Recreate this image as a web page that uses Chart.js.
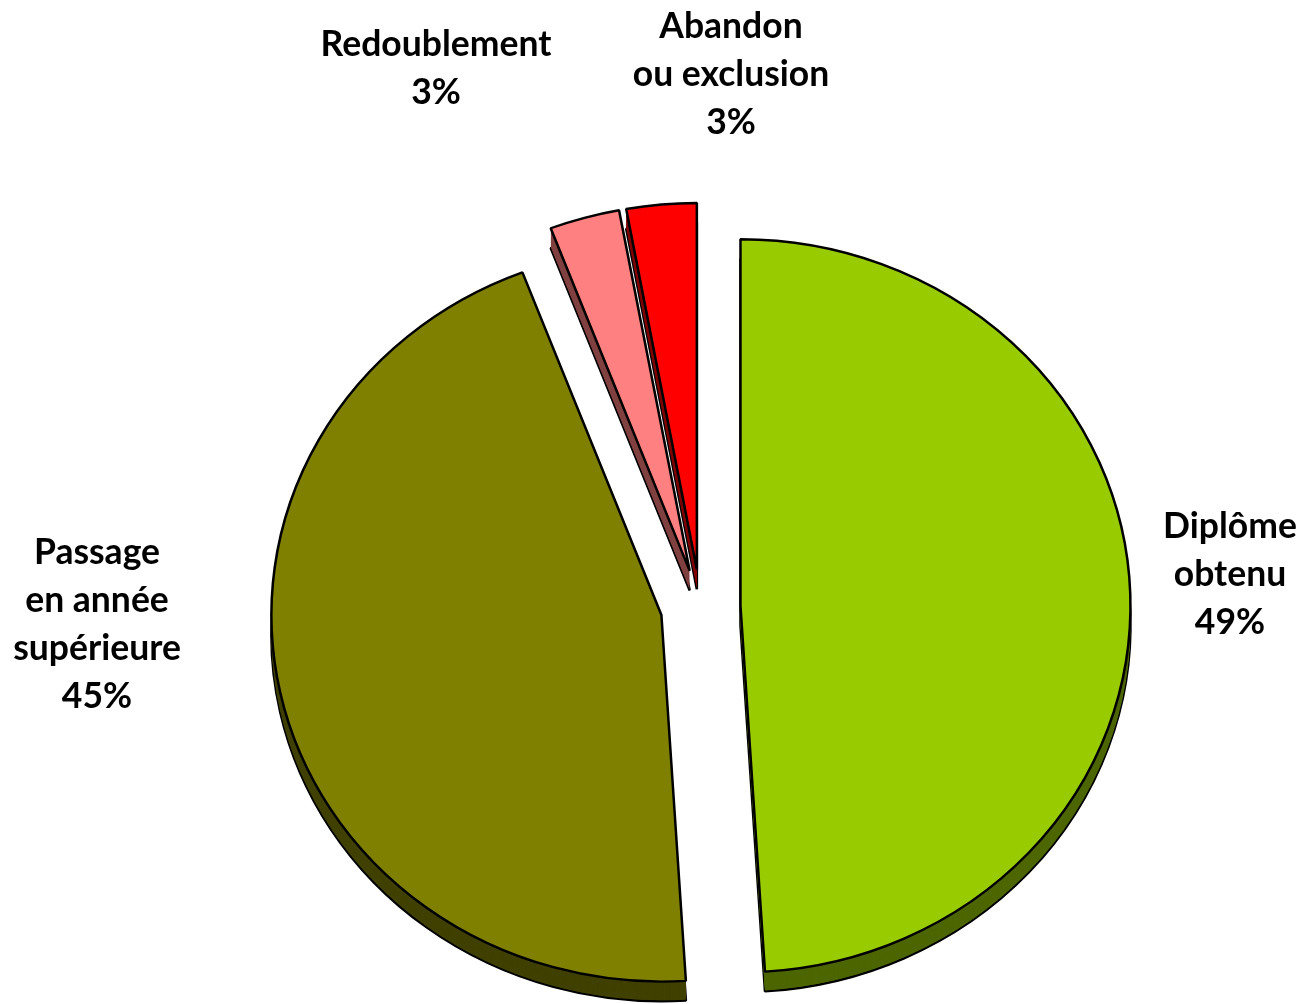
<!DOCTYPE html>
<html>
<head>
<meta charset="utf-8">
<script src="https://cdn.jsdelivr.net/npm/chart.js@4.4.1/dist/chart.umd.min.js"></script>
<style>
  html, body { margin: 0; padding: 0; background: #fff; }
  #wrap { width: 1301px; height: 1004px; }
</style>
</head>
<body>
<div id="wrap"><canvas id="myChart-pie"></canvas></div>
<script>
// categories, one entry per line of the label
const categories = [['Diplôme', 'obtenu'], ['Passage', 'en année', 'supérieure'], ['Redoublement'], ['Abandon', 'ou exclusion']];
const shares = [49.0, 45.2, 2.9, 2.9];
const faceColors = ['#99CC00', '#808000', '#FF8080', '#FF0000'];
const sideColors = ['#4D6600', '#404000', '#804040', '#800000'];

// where Excel put each label block (centre of the block)
const labelSpots = [[1230, 575], [97, 625], [436, 69], [731, 75]];

const EXPLODE = 40;  // how far every slice is pulled out
const DEPTH = 21;    // thickness of the 3d side
const TILT = 0.94;   // vertical squash of the pie

// draws the exploded 3d pie from the arc elements the library computed
const pie3d = {
  id: 'pie3d',
  beforeDatasetsDraw(chart) {
    const ctx = chart.ctx;
    const arcs = chart.getDatasetMeta(0).data;
    const cy = arcs[0].y;

    const drawSlice = (arc, dy, fill, border) => {
      const mid = (arc.startAngle + arc.endAngle) / 2;
      const copy = Object.assign(Object.create(Object.getPrototypeOf(arc)), arc);
      copy.options = Object.assign({}, arc.options, { backgroundColor: fill, borderWidth: border, borderColor: '#000' });
      ctx.save();
      ctx.translate(Math.cos(mid) * EXPLODE, Math.sin(mid) * EXPLODE + dy);
      copy.draw(ctx);
      ctx.restore();
    };

    ctx.save();
    ctx.translate(0, cy);
    ctx.scale(1, TILT);
    ctx.translate(0, -cy);
    //sides first
    arcs.forEach((arc, i) => {
      drawSlice(arc, DEPTH, sideColors[i], 2.5);
      for (let d = DEPTH - 1; d > 0; d--) drawSlice(arc, d, sideColors[i], 0);
    });
    //then the top faces
    arcs.forEach((arc, i) => drawSlice(arc, 0, faceColors[i], 2.5));
    ctx.restore();
    return false;
  },
  afterDraw(chart) {
    const ctx = chart.ctx;
    const data = chart.data.datasets[0].data;
    ctx.save();
    ctx.fillStyle = '#000';
    ctx.font = 'bold 35.5px Lato';
    ctx.textAlign = 'center';
    ctx.textBaseline = 'middle';
    const lineH = 48;
    chart.data.labels.forEach((lab, i) => {
      const lines = lab.concat([Math.round(data[i]) + '%']);
      const [x, y] = labelSpots[i];
      const top = y - (lines.length - 1) * lineH / 2;
      lines.forEach((t, k) => ctx.fillText(t, x, top + k * lineH));
    });
    ctx.restore();
  }
};

const ctx = document.getElementById('myChart-pie');
ctx.width = 1301;
ctx.height = 1004;
new Chart(ctx, {
  type: 'pie',
  data: {
    labels: categories,
    datasets: [{
      data: shares,
      backgroundColor: faceColors,
      borderColor: '#000',
      borderWidth: 2.5,
      clip: false
    }]
  },
  options: {
    responsive: false,
    animation: false,
    events: [],
    radius: 390,
    layout: { padding: { left: 100, top: 210, right: 0, bottom: 0 } },
    plugins: {
      legend: { display: false },
      tooltip: { enabled: false }
    }
  },
  plugins: [pie3d]
});
</script>
</body>
</html>
